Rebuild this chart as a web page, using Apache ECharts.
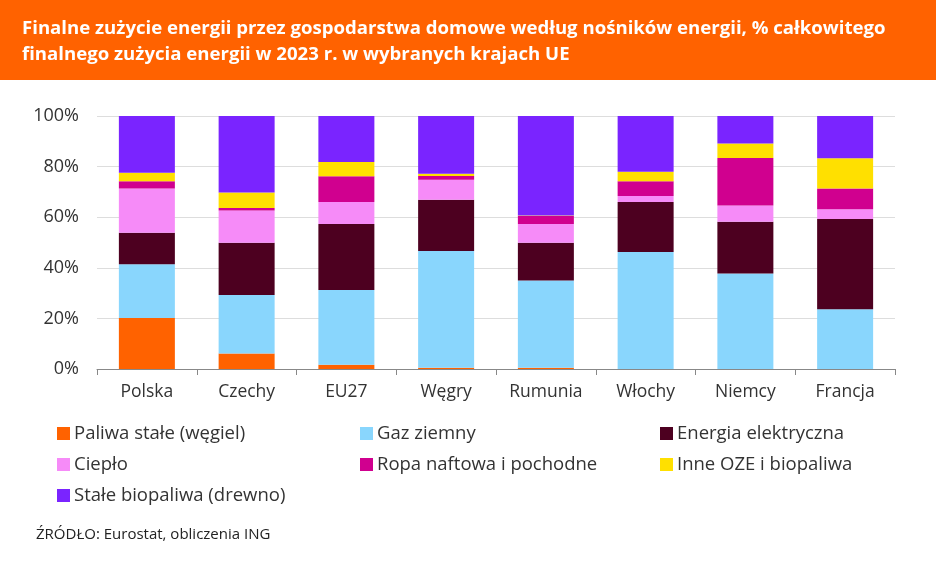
<!DOCTYPE html>
<html><head><meta charset="utf-8">
<script src="https://cdn.jsdelivr.net/npm/echarts@6/dist/echarts.min.js"></script>
<style>html,body{margin:0;padding:0;background:#fff}#c{width:936px;height:566px}</style>
</head><body><div id="c"></div>
<script>
const categories = ['Polska','Czechy','EU27','Węgry','Rumunia','Włochy','Niemcy','Francja'];
const seriesNames = ['Paliwa stałe (węgiel)','Gaz ziemny','Energia elektryczna','Ciepło','Ropa naftowa i pochodne','Inne OZE i biopaliwa','Stałe biopaliwa (drewno)'];
const coal = [20.2, 6.1, 1.7, 0.5, 0.5, 0.0, 0.0, 0.0];
const gas  = [21.2, 23.1, 29.5, 46.1, 34.5, 46.2, 37.7, 23.6];
const elec = [12.5, 20.7, 26.1, 20.3, 14.9, 19.8, 20.5, 35.7];
const heat = [17.4, 12.7, 8.7, 7.9, 7.4, 2.4, 6.4, 3.8];
const oil  = [2.9, 1.0, 10.2, 1.5, 3.2, 5.8, 18.8, 8.2];
const oze  = [3.4, 6.2, 5.6, 0.9, 0.2, 3.8, 5.7, 12.0];
const wood = [22.4, 30.2, 18.2, 22.8, 39.3, 22.0, 10.9, 16.7];
const yTicks = ['0%','20%','40%','60%','80%','100%'];

const colors = ['#FF6200','#89D6FD','#4D0020','#F68BF8','#D0008F','#FFE000','#7A24FF'];
const values = [coal, gas, elec, heat, oil, oze, wood];
const FONT = '"Open Sans", Lato, sans-serif';

const chart = echarts.init(document.getElementById('c'), null, {renderer:'canvas'});
const legendCommon = {
  orient:'vertical', top:424, padding:0, itemWidth:13, itemHeight:13, itemGap:12, icon:'rect',
  textStyle:{fontFamily:FONT, fontSize:18.5, color:'#333', padding:[0,0,0,-1]}
};
chart.setOption({
  animation:false,
  color: colors,
  graphic:[{type:'rect', shape:{x:0,y:0,width:936,height:80}, style:{fill:'#FF6200'}, z:-1}],
  title:[
    {text:'Finalne zużycie energii przez gospodarstwa domowe według nośników energii, % całkowitego\nfinalnego zużycia energii w 2023 r. w wybranych krajach UE',
     left:22, top:16, padding:0, textStyle:{color:'#fff', fontFamily:FONT, fontWeight:'bold', fontSize:18.6, lineHeight:26}},
    {text:'ŹRÓDŁO: Eurostat, obliczenia ING', left:36, top:527, padding:0, textStyle:{color:'#222', fontFamily:FONT, fontWeight:'normal', fontSize:15}}
  ],
  legend:[
    Object.assign({left:57, data:[seriesNames[0], seriesNames[3], seriesNames[6]]}, legendCommon),
    Object.assign({left:360, data:[seriesNames[1], seriesNames[4]]}, legendCommon),
    Object.assign({left:660, data:[seriesNames[2], seriesNames[5]]}, legendCommon)
  ],
  grid:{left:97, right:41, top:116, bottom:197, containLabel:false},
  xAxis:{type:'category', data:categories,
    axisLine:{lineStyle:{color:'#888'}}, axisTick:{show:true, length:6, lineStyle:{color:'#888'}},
    axisLabel:{fontFamily:FONT, fontSize:17.5, color:'#333', margin:14}},
  yAxis:{type:'value', min:0, max:100, interval:20,
    axisLabel:{fontFamily:FONT, fontSize:18, color:'#333', margin:18, formatter:(v)=>yTicks[v/20]},
    splitLine:{lineStyle:{color:'#ddd'}}, axisLine:{show:false}, axisTick:{show:false}},
  series: seriesNames.map((n,i)=>({name:n, type:'bar', stack:'all', barWidth:56, data:values[i], itemStyle:{color:colors[i]}}))
});
</script></body></html>
